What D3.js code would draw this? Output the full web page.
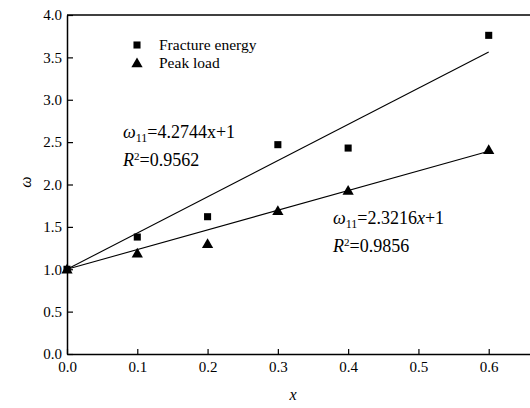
<!DOCTYPE html>
<html><head><meta charset="utf-8">
<script src="https://cdn.jsdelivr.net/npm/d3@7"></script>
<style>body{margin:0;background:#fff}svg{display:block}</style>
</head><body><svg id="c" width="530" height="408"></svg>
<script>
const xValues = [0, 0.1, 0.2, 0.3, 0.4, 0.6];
const fractureEnergy = [1.0, 1.38, 1.62, 2.47, 2.43, 3.76];
const peakLoad = [1.0, 1.19, 1.3, 1.69, 1.93, 2.41];
const fitSlopes = [4.2744, 2.3216];
const fitIntercept = 1;
const fitRange = [0, 0.6];
const xTicks = [0, 0.1, 0.2, 0.3, 0.4, 0.5, 0.6];
const yTicks = [0, 0.5, 1.0, 1.5, 2.0, 2.5, 3.0, 3.5, 4.0];
const legendLabels = ["Fracture energy", "Peak load"];

const FONT = "Liberation Serif";
const svg = d3.select("#c");
const x = d3.scaleLinear().domain([0, 0.7]).range([67, 559]);
const y = d3.scaleLinear().domain([0, 4]).range([354, 15]);

const gx = svg.append("g").attr("transform", `translate(0,${y(0)})`)
  .call(d3.axisBottom(x).tickValues(xTicks).tickSizeInner(-5).tickSizeOuter(0).tickPadding(7).tickFormat(d3.format(".1f")));
const gy = svg.append("g").attr("transform", `translate(${x(0)},0)`)
  .call(d3.axisLeft(y).tickValues(yTicks).tickSizeInner(-6).tickSizeOuter(0).tickPadding(5).tickFormat(d3.format(".1f")));
[gx, gy].forEach(g => {
  g.attr("font-family", null).attr("font-size", null);
  g.select(".domain").attr("stroke", "#000").attr("stroke-width", 1.5);
  g.selectAll(".tick line").attr("stroke", "#000").attr("stroke-width", 1.2);
  g.selectAll(".tick text").style("font-family", FONT).style("font-size", "15px").attr("fill", "#000");
});
svg.append("line").attr("x1", x(0)).attr("x2", x(0.7)).attr("y1", y(4)).attr("y2", y(4))
  .attr("stroke", "#000").attr("stroke-width", 1.5);

fitSlopes.forEach(k => {
  svg.append("line")
    .attr("x1", x(fitRange[0])).attr("y1", y(k * fitRange[0] + fitIntercept))
    .attr("x2", x(fitRange[1])).attr("y2", y(k * fitRange[1] + fitIntercept))
    .attr("stroke", "#000").attr("stroke-width", 1.1);
});

const sq = d3.symbol().type(d3.symbolSquare).size(50);
const tri = d3.symbol().type(d3.symbolTriangle).size(55);
svg.append("g").selectAll("path").data(xValues.map((v, i) => [v, peakLoad[i]])).join("path")
  .attr("d", tri).attr("transform", d => `translate(${x(d[0])},${y(d[1]) + 1})`).attr("fill", "#000");
svg.append("g").selectAll("path").data(xValues.map((v, i) => [v, fractureEnergy[i]])).join("path")
  .attr("d", sq).attr("transform", d => `translate(${x(d[0])},${y(d[1])})`).attr("fill", "#000");

function txt(xp, yp, size) {
  return svg.append("text").attr("x", xp).attr("y", yp).style("font-family", FONT).style("font-size", size + "px").attr("fill", "#000");
}
svg.append("path").attr("d", sq).attr("transform", "translate(137,45)").attr("fill", "#000");
svg.append("path").attr("d", tri).attr("transform", "translate(137,64)").attr("fill", "#000");
txt(159, 50, 15.5).text(legendLabels[0]);
txt(159, 68, 15.5).text(legendLabels[1]);

function eq(x0, y0, slope, italicX, r2) {
  const t = txt(x0, y0, 18);
  t.append("tspan").style("font-style", "italic").text("ω");
  t.append("tspan").style("font-size", "12px").attr("dy", 4).text("11");
  t.append("tspan").attr("dy", -4).text("=" + slope);
  t.append("tspan").style("font-style", italicX ? "italic" : "normal").text("x");
  t.append("tspan").text("+1");
  const r = txt(x0, y0 + 28, 18);
  r.append("tspan").style("font-style", "italic").text("R");
  r.append("tspan").style("font-size", "11px").attr("dy", -6).text("2");
  r.append("tspan").attr("dy", 6).text("=" + r2);
}
eq(123, 138, "4.2744", false, "0.9562");
eq(333, 224, "2.3216", true, "0.9856");

txt(293, 400, 16).attr("text-anchor", "middle").style("font-style", "italic").text("x");
txt(0, 0, 16).attr("transform", "translate(31,182) rotate(-90)").attr("text-anchor", "middle")
  .style("font-style", "italic").text("ω");
</script></body></html>
